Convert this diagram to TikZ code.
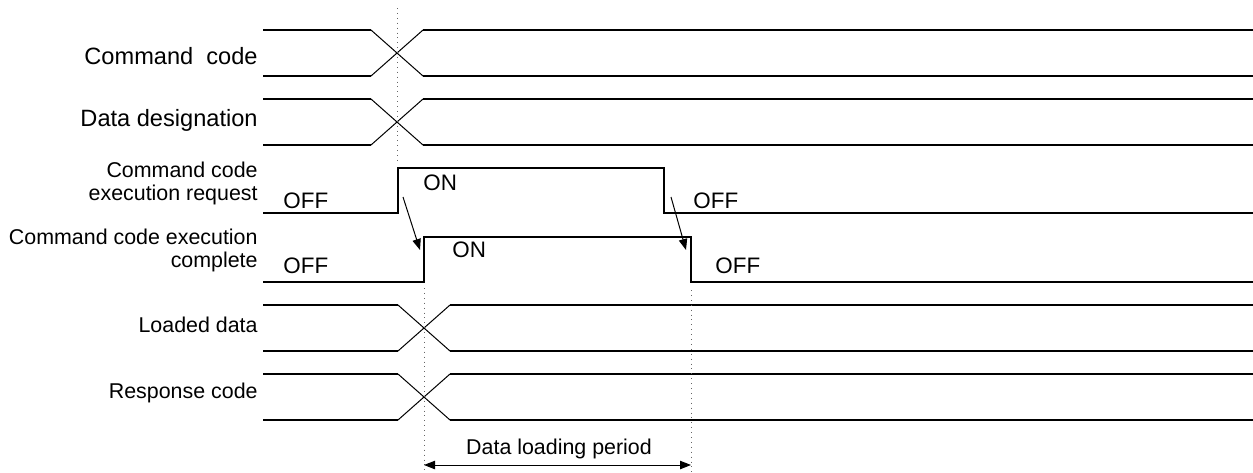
\documentclass[tikz,border=0pt]{standalone}
\usepackage{fontspec}
\setmainfont{Liberation Sans}
\usetikzlibrary{arrows.meta}

\tikzset{
  sig/.style={line width=1.15pt},
  xline/.style={line width=0.5pt},
  guide/.style={line width=0.45pt, gray!80!black, dotted},
  lbl/.style={inner sep=0pt, anchor=base east, font=\fontsize{11.8}{14}\selectfont},
  lbls/.style={inner sep=0pt, font=\fontsize{10.7}{11.5}\selectfont},
  lvl/.style={inner sep=0pt, anchor=base west, font=\fontsize{11.2}{13}\selectfont}
}

\begin{document}
\begin{tikzpicture}[x=0.5pt, y=-0.5pt, >={Triangle[length=5.5pt, width=4.2pt]}]
  \useasboundingbox (0,0) rectangle (1253,472);

  % bus signals with a change point
  \foreach \t/\b/\c in {30/76/397, 99/145/397, 305/351/424, 374/420/424} {
    \draw[sig] (263,\t) -- ({\c-26},\t) (263,\b) -- ({\c-26},\b);
    \draw[sig] ({\c+26},\t) -- (1253,\t) ({\c+26},\b) -- (1253,\b);
    \draw[xline] ({\c-26},\t) -- ({\c+26},\b) ({\c-26},\b) -- ({\c+26},\t);
  }

  % bit signals
  \draw[sig] (263,213) -- (398,213) -- (398,168) -- (664,168) -- (664,213) -- (1253,213);
  \draw[sig] (263,282) -- (424,282) -- (424,237) -- (691,237) -- (691,282) -- (1253,282);

  \draw[guide] (397,8) -- (397,162);
  \draw[guide] (424,288) -- (424,472);
  \draw[guide] (691,290) -- (691,472);

  \node[lbl] (cmd) at (258,64) {Command\ \ code};
  \node[lbl] (dsg) at (258,126) {Data designation};
  \node[lbls, anchor=east, align=right] (req) at (258,183) {Command code\\execution request};
  \node[lbls, anchor=east, align=right] (cmp) at (258,250) {Command code execution\\complete};
  \node[lbls, anchor=base east] (load) at (258,332) {Loaded data};
  \node[lbls, anchor=base east] (resp) at (258,398) {Response code};

  \node[lvl] (reqoff) at (283,208) {OFF};
  \node[lvl] (reqon) at (423,190) {ON};
  \node[lvl] (reqoff2) at (693,208) {OFF};
  \node[lvl] (cmpoff) at (283,273) {OFF};
  \node[lvl] (cmpon) at (452,257) {ON};
  \node[lvl] (cmpoff2) at (715,273) {OFF};

  \coordinate (r1) at (403,197);
  \coordinate (c1) at (420,250);
  \coordinate (r2) at (671,197);
  \coordinate (c2) at (686,250);
  \draw[xline, ->] (r1) -- (c1);
  \draw[xline, ->] (r2) -- (c2);

  \coordinate (p1) at (424,465);
  \coordinate (p2) at (691,465);
  \draw[xline, <->] (p1) -- (p2);
  \node[lbls, anchor=base] (period) at (559,454) {Data loading period};
\end{tikzpicture}
\end{document}
